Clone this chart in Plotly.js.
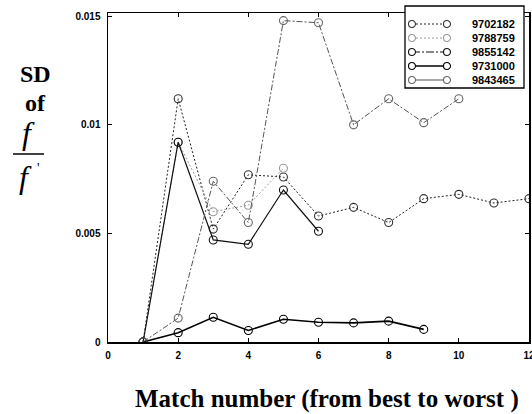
<!DOCTYPE html>
<html>
<head>
<meta charset="utf-8">
<script src="https://cdn.plot.ly/plotly-3.0.1.min.js"></script>
<style>html,body{margin:0;padding:0;background:#fff;}#chart{width:532px;height:414px;}</style>
</head>
<body>
<div id="chart"></div>
<script>
// ---- data ----
var seriesNames = ["9702182", "9788759", "9855142", "9731000", "9843465"];

var x9702182 = [1, 2, 3, 4, 5, 6, 7, 8, 9, 10, 11, 12];
var y9702182 = [0, 0.0112, 0.0052, 0.0077, 0.0076, 0.0058, 0.0062, 0.0055, 0.0066, 0.0068, 0.0064, 0.0066];

var x9788759 = [1, 2, 3, 4, 5];
var y9788759 = [0, 0.0092, 0.0060, 0.0063, 0.0080];

var x9855142 = [1, 2, 3, 4, 5, 6];
var y9855142 = [0, 0.0092, 0.0047, 0.0045, 0.0070, 0.0051];

var x9731000 = [1, 2, 3, 4, 5, 6, 7, 8, 9];
var y9731000 = [0, 0.00043, 0.00114, 0.00053, 0.00105, 0.00091, 0.00088, 0.00096, 0.00058];

var x9843465 = [1, 2, 3, 4, 5, 6, 7, 8, 9, 10];
var y9843465 = [0, 0.0011, 0.0074, 0.0055, 0.0148, 0.0147, 0.0100, 0.0112, 0.0101, 0.0112];

var xTicks = [0, 2, 4, 6, 8, 10, 12];
var yTicks = [0, 0.005, 0.01, 0.015];
var yTickText = ["0", "0.005", "0.01", "0.015"];

// ---- styles ----
var styles = [
  {color: "#222", dash: "2px,2px", width: 1, mcolor: "#333"},
  {color: "#9a9a9a", dash: "2px,2px", width: 1, mcolor: "#9a9a9a"},
  {color: "#111", dash: "solid", width: 1.2, mcolor: "#111"},
  {color: "#000", dash: "solid", width: 1.6, mcolor: "#000"},
  {color: "#555", dash: "6px,2px,2px,2px", width: 1, mcolor: "#666"}
];
var legendDash = ["2px,2px", "2px,2px", "8px,2px,2px,2px", "solid", "solid"];

var xs = [x9702182, x9788759, x9855142, x9731000, x9843465];
var ys = [y9702182, y9788759, y9855142, y9731000, y9843465];

var traces = seriesNames.map(function (n, i) {
  return {
    x: xs[i], y: ys[i], name: n, type: "scatter", mode: "lines+markers",
    line: {color: styles[i].color, dash: styles[i].dash, width: styles[i].width},
    marker: {symbol: "circle-open", size: 8, color: styles[i].mcolor, line: {width: 1.1, color: styles[i].mcolor}},
    showlegend: false
  };
});

// pixel -> paper helpers for layout placement
var L = 108, R = 529, T = 13, B = 342;
function px(xp) { return (xp - L) / (R - L); }
function py(yp) { return (B - yp) / (B - T); }

var SERIF = "Liberation Serif, Times New Roman, Times, serif";
var SANS = "Liberation Sans, Arial, Helvetica, sans-serif";

var annotations = [
  {text: "<b>SD</b>", x: px(35), y: py(74), font: {family: SERIF, size: 24, color: "#000"}},
  {text: "<b>of</b>", x: px(35), y: py(103), font: {family: SERIF, size: 24, color: "#000"}},
  {text: "<i>f</i>", x: px(28), y: py(133), font: {family: SERIF, size: 32, color: "#000"}},
  {text: "<i>f</i>", x: px(25), y: py(177), font: {family: SERIF, size: 32, color: "#000"}},
  {text: "'", x: px(38), y: py(168), font: {family: SERIF, size: 14, color: "#000"}},
  {text: "<b>Match number (from best to worst )</b>", x: px(326.5), y: py(399),
   font: {family: SERIF, size: 25, color: "#000"}}
].map(function (a) {
  a.xref = "paper"; a.yref = "paper"; a.showarrow = false; a.xanchor = "center"; a.yanchor = "middle";
  return a;
});

var shapes = [
  {type: "line", xref: "paper", yref: "paper", x0: px(13), x1: px(44), y0: py(154), y1: py(154), line: {color: "#000", width: 1.5}},
  // legend box
  {type: "rect", xref: "paper", yref: "paper", x0: px(405), x1: px(524), y0: py(6), y1: py(88),
   line: {color: "#000", width: 1.3}, fillcolor: "#fff", layer: "above"}
];

var rowY = [24, 38, 52, 66, 80];
seriesNames.forEach(function (n, i) {
  var s = styles[i];
  shapes.push({type: "line", xref: "paper", yref: "paper", x0: px(412), x1: px(447), y0: py(rowY[i]), y1: py(rowY[i]),
    line: {color: s.color, width: s.width, dash: legendDash[i]}, layer: "above"});
  [412, 447].forEach(function (cx) {
    shapes.push({type: "circle", xref: "paper", yref: "paper", x0: px(cx - 3.5), x1: px(cx + 3.5),
      y0: py(rowY[i] + 3.5), y1: py(rowY[i] - 3.5), line: {color: s.mcolor, width: 1.1}, fillcolor: "#fff", layer: "above"});
  });
  annotations.push({text: "<b>" + n + "</b>", xref: "paper", yref: "paper", x: px(470), y: py(rowY[i]),
    xanchor: "left", yanchor: "middle", showarrow: false, font: {family: SANS, size: 11, color: "#000"}});
});

var tickFont = {family: SANS, size: 10, color: "#000", weight: "bold"};

var layout = {
  width: 532, height: 414,
  margin: {l: L, r: 532 - R, t: T, b: 414 - B},
  paper_bgcolor: "#fff", plot_bgcolor: "#fff",
  showlegend: false,
  xaxis: {
    range: [0, 12], tickvals: xTicks, ticktext: xTicks.map(String),
    ticks: "inside", ticklen: 4, tickcolor: "#000", tickwidth: 1,
    showline: true, linecolor: "#000", linewidth: 1.5, mirror: "ticks",
    showgrid: false, zeroline: false, tickfont: tickFont,
    ticklabeloverflow: "allow", ticklabelstandoff: 3
  },
  yaxis: {
    range: [0, 0.01515], tickvals: yTicks, ticktext: yTickText,
    ticks: "inside", ticklen: 4, tickcolor: "#000", tickwidth: 1,
    showline: true, linecolor: "#000", linewidth: 1.5, mirror: "ticks",
    showgrid: false, zeroline: false, tickfont: tickFont, ticklabelstandoff: 4
  },
  annotations: annotations,
  shapes: shapes
};

Plotly.newPlot("chart", traces, layout, {displayModeBar: false, staticPlot: true});
</script>
</body>
</html>
